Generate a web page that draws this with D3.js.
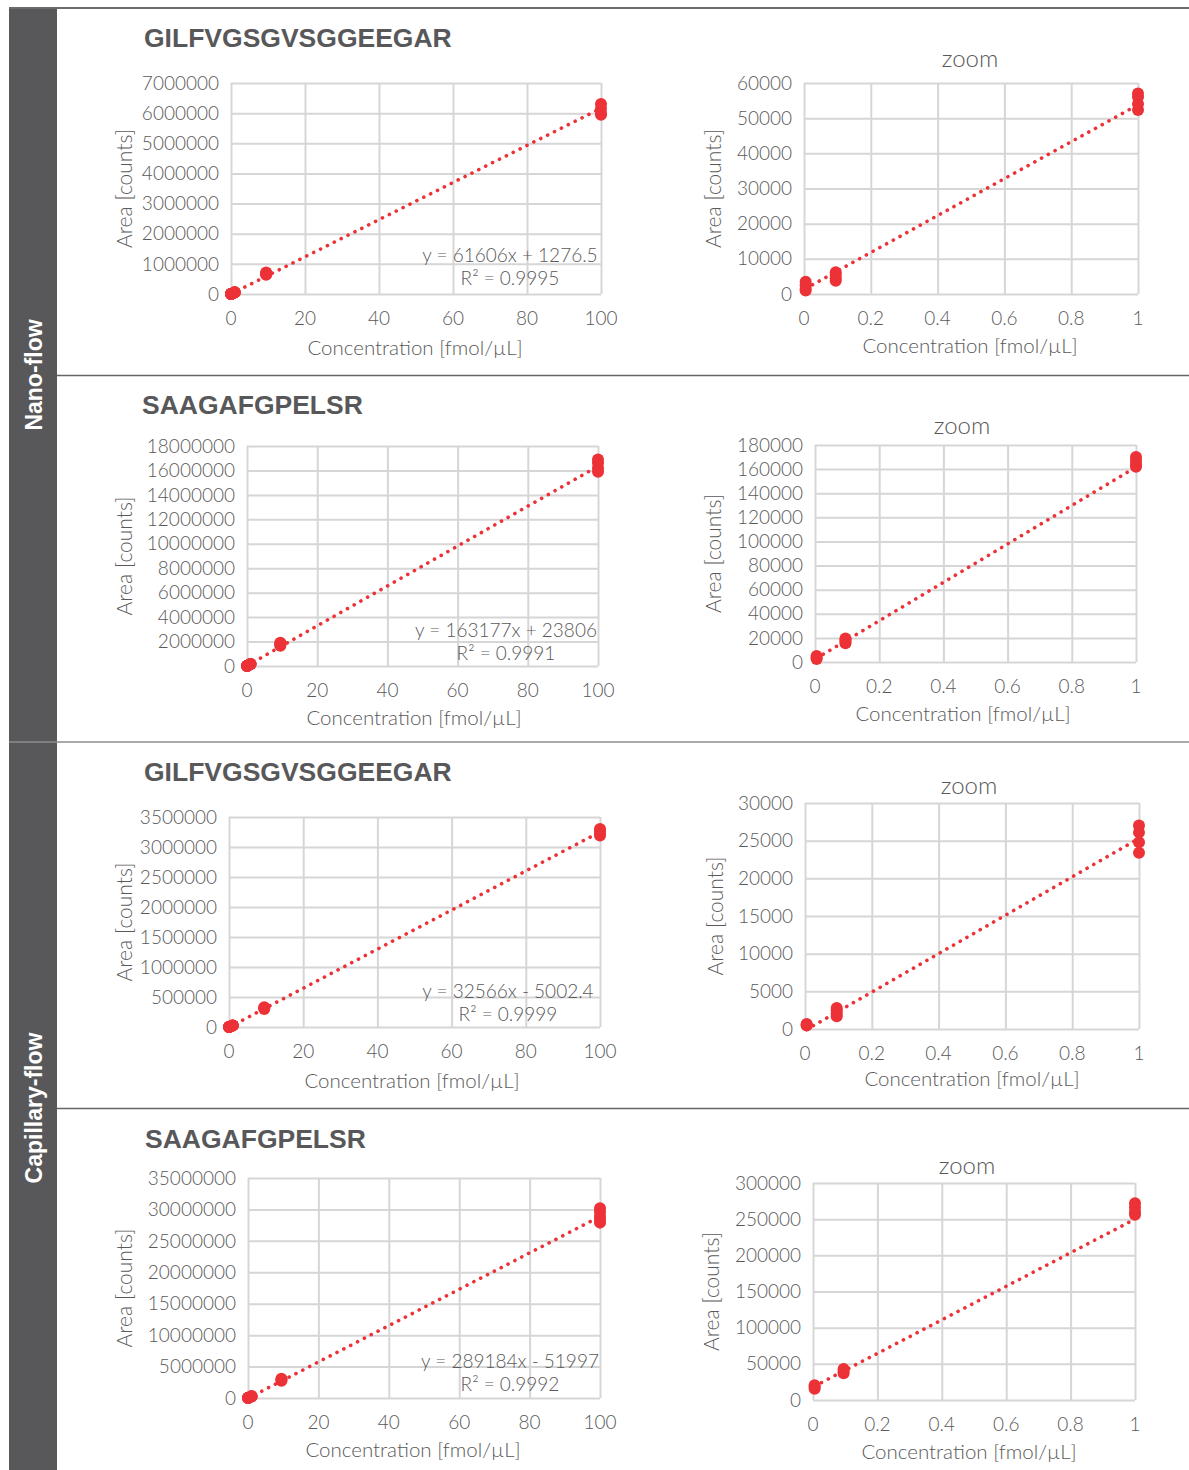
<!DOCTYPE html>
<html>
<head>
<meta charset="utf-8">
<script src="https://cdn.jsdelivr.net/npm/d3@7"></script>
<style>
  body { margin: 0; background: #fff; }
  svg { display: block; }
  .tick-label { font-family: "Lato", "Liberation Sans", sans-serif; font-weight: 300; fill: #595959; }
</style>
</head>
<body>
<svg id="chart"></svg>
<script>
// concentrations [fmol/µL] (dilution series, replicates per level)
const conc = [0.005, 0.095, 1, 9.5, 100];
const zoomLevels = 3; // zoom panels show first three levels

// peak areas, one array of replicates per concentration
const nanoGilfArea = [
  [1000, 1500, 2500, 3500],
  [3800, 4500, 5500, 6200],
  [52300, 54000, 56000, 57000],
  [640000, 665000, 690000, 715000],
  [5950000, 6000000, 6150000, 6300000]
];
const nanoSaagArea = [
  [2500, 3500, 5000],
  [15500, 17000, 18500, 19500],
  [162000, 164000, 167000, 170000],
  [1650000, 1750000, 1850000, 1900000],
  [15900000, 16200000, 16600000, 16900000]
];
const capGilfArea = [
  [450, 550, 650],
  [1700, 2100, 2500, 2800],
  [23400, 24800, 26100, 27000],
  [300000, 315000, 330000],
  [3190000, 3220000, 3270000, 3300000]
];
const capSaagArea = [
  [15500, 18000, 20500],
  [37000, 40000, 43000],
  [256000, 260000, 266000, 272000],
  [2750000, 2900000, 3050000],
  [27900000, 28400000, 28900000, 29600000, 30200000]
];

// linear trendlines [slope, intercept]
const fullFit = [[61606, 1276.5], [163177, 23806], [32566, -5002.4], [289184, -51997]];
const zoomFit = [[52500, 1300], [159400, 2300], [25500, -200], [232000, 18000]];
const fitLabels = [
  ["y = 61606x + 1276.5", "R² = 0.9995"],
  ["y = 163177x + 23806", "R² = 0.9991"],
  ["y = 32566x - 5002.4", "R² = 0.9999"],
  ["y = 289184x - 51997", "R² = 0.9992"]
];
const peptides = ["GILFVGSGVSGGEEGAR", "SAAGAFGPELSR", "GILFVGSGVSGGEEGAR", "SAAGAFGPELSR"];
const rowAreas = [nanoGilfArea, nanoSaagArea, capGilfArea, capSaagArea];
const yMaxFull = [7000000, 18000000, 3500000, 35000000];
const yStepFull = [1000000, 2000000, 500000, 5000000];
const yMaxZoom = [60000, 180000, 30000, 300000];
const yStepZoom = [10000, 20000, 5000, 50000];
const flowLabels = ["Nano-flow", "Capillary-flow"];

const W = 1189, H = 1470;
const red = "#ec3237";
const grid = "#d6d6d6";

const svg = d3.select("#chart").attr("width", W).attr("height", H);

// left band and separators
svg.append("rect").attr("x", 9).attr("y", 9).attr("width", 48).attr("height", H - 9).attr("fill", "#58585a");
svg.append("line").attr("x1", 9).attr("x2", W).attr("y1", 8).attr("y2", 8).attr("stroke", "#3a3a3a").attr("stroke-width", 1.5);
svg.append("line").attr("x1", 57).attr("x2", W).attr("y1", 375.5).attr("y2", 375.5).attr("stroke", "#666").attr("stroke-width", 1.3);
svg.append("line").attr("x1", 9).attr("x2", W).attr("y1", 742).attr("y2", 742).attr("stroke", "#8c8c8c").attr("stroke-width", 1.5);
svg.append("line").attr("x1", 57).attr("x2", W).attr("y1", 1108.5).attr("y2", 1108.5).attr("stroke", "#666").attr("stroke-width", 1.3);

[[375, flowLabels[0]], [1108, flowLabels[1]]].forEach(([cy, label]) => {
  svg.append("text")
    .attr("transform", `translate(42,${cy}) rotate(-90)`)
    .attr("text-anchor", "middle")
    .attr("font-family", "Liberation Sans, Arial, sans-serif")
    .attr("font-weight", "bold")
    .attr("font-size", 23)
    .attr("fill", "#fff")
    .text(label);
});

// panel geometry (pixels)
const layout = [
  { L: [231, 601, 83, 294, 144, 38, 125, 415, 348, 510, 255], R: [804, 1138, 83, 294, 970, 59, 714, 970, 346] },
  { L: [247, 598, 446, 666, 142, 405, 125, 414, 718, 506, 630], R: [815, 1136, 445, 662, 962, 426, 714, 963, 714] },
  { L: [229, 600, 817, 1027, 144, 772, 125, 412, 1081, 508, 991], R: [805, 1139, 803, 1029, 969, 786, 716, 972, 1079] },
  { L: [248, 600, 1178, 1398, 145, 1139, 125, 413, 1450, 510, 1361], R: [813, 1135, 1183, 1400, 967, 1166, 712, 969, 1452] }
];

const fmtY = d3.format("d");
const fmtX = d3.format("~g");

function panel(g) {
  const x = d3.scaleLinear().domain([0, g.xMax]).range([g.x0, g.x1]);
  const y = d3.scaleLinear().domain([0, g.yMax]).range([g.y1, g.y0]);
  const xt = d3.range(0, g.xMax + g.xMax / 10, g.xMax / 5);
  const yt = d3.range(0, g.yMax + g.yStep / 2, g.yStep);

  // grid (also frames the plot)
  svg.append("g").call(d3.axisLeft(y).tickValues(yt).tickSize(-(g.x1 - g.x0)).tickFormat(""))
    .attr("transform", `translate(${g.x0},0)`)
    .call(a => a.select(".domain").remove())
    .call(a => a.selectAll("line").attr("stroke", grid).attr("stroke-width", 2));
  svg.append("g").call(d3.axisBottom(x).tickValues(xt).tickSize(-(g.y1 - g.y0)).tickFormat(""))
    .attr("transform", `translate(0,${g.y1})`)
    .call(a => a.select(".domain").remove())
    .call(a => a.selectAll("line").attr("stroke", grid).attr("stroke-width", 2));

  // tick labels
  svg.append("g").selectAll("text").data(yt).enter().append("text")
    .attr("class", "tick-label")
    .attr("x", g.x0 - 12).attr("y", d => y(d)).attr("dy", "0.35em")
    .attr("text-anchor", "end").attr("font-size", 19)
    .text(fmtY);
  svg.append("g").selectAll("text").data(xt).enter().append("text")
    .attr("class", "tick-label")
    .attr("x", d => x(d)).attr("y", g.y1 + 24).attr("dy", "0.35em")
    .attr("text-anchor", "middle").attr("font-size", 19)
    .text(fmtX);

  // axis titles
  svg.append("text").attr("class", "tick-label")
    .attr("x", g.xtx).attr("y", g.xty).attr("dy", "0.35em")
    .attr("text-anchor", "middle").attr("font-size", 20.5)
    .text("Concentration [fmol/µL]");
  svg.append("text").attr("class", "tick-label")
    .attr("transform", `translate(${g.ytx},${(g.y0 + g.y1) / 2}) rotate(-90)`)
    .attr("dy", "0.35em").attr("text-anchor", "middle").attr("font-size", 21)
    .text("Area [counts]");

  // title
  if (g.zoom) {
    svg.append("text").attr("class", "tick-label")
      .attr("x", g.tx).attr("y", g.ty).attr("dy", "0.35em")
      .attr("text-anchor", "middle").attr("font-size", 24)
      .text("zoom");
  } else {
    svg.append("text")
      .attr("x", g.tx).attr("y", g.ty).attr("dy", "0.35em")
      .attr("font-family", "Liberation Sans, Arial, sans-serif")
      .attr("font-weight", "bold").attr("font-size", 26.5).attr("fill", "#58585a")
      .text(g.title);
  }

  // trendline (dotted)
  const xs = [conc[0], g.xMax];
  const line = d3.line().x(d => x(d)).y(d => y(g.fit[0] * d + g.fit[1]));
  svg.append("path").datum(xs).attr("d", line)
    .attr("fill", "none").attr("stroke", red).attr("stroke-width", 3.6)
    .attr("stroke-linecap", "round").attr("stroke-dasharray", "0.1 7.6");

  // points
  const pts = [];
  g.areas.forEach((reps, i) => reps.forEach(v => pts.push({ c: conc[i], v })));
  svg.append("g").selectAll("circle").data(pts).enter().append("circle")
    .attr("cx", d => x(d.c)).attr("cy", d => y(d.v)).attr("r", 6)
    .attr("fill", red);

  // equation
  if (g.eq) {
    const t = svg.append("text").attr("class", "tick-label")
      .attr("text-anchor", "middle").attr("font-size", 19);
    t.append("tspan").attr("x", g.ex).attr("y", g.ey).attr("dy", "0.35em").text(g.eq[0]);
    t.append("tspan").attr("x", g.ex).attr("y", g.ey + 23).attr("dy", "0.35em").text(g.eq[1]);
  }
}

layout.forEach((lay, r) => {
  const a = lay.L;
  panel({
    x0: a[0], x1: a[1], y0: a[2], y1: a[3], tx: a[4], ty: a[5], ytx: a[6], xtx: a[7], xty: a[8],
    ex: a[9], ey: a[10], xMax: 100, yMax: yMaxFull[r], yStep: yStepFull[r],
    title: peptides[r], fit: fullFit[r], eq: fitLabels[r], areas: rowAreas[r], zoom: false
  });
  const b = lay.R;
  panel({
    x0: b[0], x1: b[1], y0: b[2], y1: b[3], tx: b[4], ty: b[5], ytx: b[6], xtx: b[7], xty: b[8],
    xMax: 1, yMax: yMaxZoom[r], yStep: yStepZoom[r],
    fit: zoomFit[r], areas: rowAreas[r].slice(0, zoomLevels), zoom: true
  });
});
</script>
</body>
</html>
